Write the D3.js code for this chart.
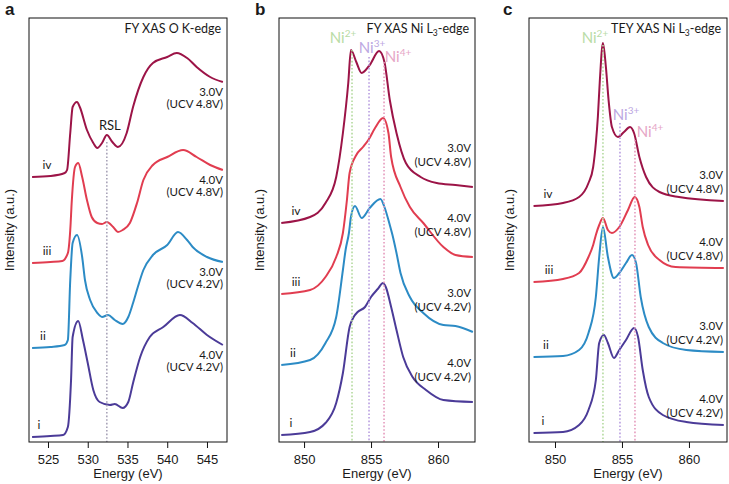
<!DOCTYPE html>
<html>
<head>
<meta charset="utf-8">
<script src="https://cdn.jsdelivr.net/npm/d3@7"></script>
<style>
  body { margin: 0; background: #fff; }
  svg text { font-family: "Liberation Sans", Arial, sans-serif; fill: #1a1a1a; }
  .cal { font-family: Lato, "Open Sans", sans-serif !important; }
</style>
</head>
<body>
<svg id="chart" width="729" height="484"></svg>
<script>
// ---- data: [energy (eV), intensity (a.u.)] ----
const oK_i = [[523.0,5],[525.3,6],[526.9,7],[527.5,15],[527.9,62],[528.1,105],[528.8,121],[529.4,102],[530.0,79],[530.7,52],[531.5,40],[532.8,37],[533.4,38],[534.4,34],[535.1,40],[535.7,59],[536.6,85],[537.8,105],[539.5,115],[541.6,127],[543.2,119],[545.0,107],[547.0,97]];
const oK_ii = [[523.0,94],[525.3,95],[527.1,97],[527.5,102],[527.8,162],[528.1,199],[528.65,207],[529.3,185],[529.65,162],[530.3,142],[531.2,129],[531.8,125],[532.55,127],[533.4,122],[534.4,118],[535.1,125],[535.7,139],[536.3,155],[537.0,172],[538.2,187],[540.0,197],[541.35,210],[542.5,202],[543.2,195],[545.0,185],[547.0,180]];
const oK_iii = [[523.0,179],[525.3,180],[526.8,181],[527.5,189],[527.8,212],[528.0,242],[528.4,275],[528.8,279],[529.3,265],[529.9,242],[530.5,225],[531.2,219],[531.8,218],[532.4,220],[533.2,215],[533.8,210],[534.4,212],[535.3,219],[536.2,239],[537.0,262],[538.2,277],[540.0,285],[542.0,292],[543.7,285],[545.4,277],[547.0,272]];
const oK_iv = [[523.0,265],[525.3,266],[527.1,269],[527.4,272],[527.8,309],[528.1,335],[528.65,340],[529.0,335],[529.9,312],[530.7,299],[531.2,294],[531.8,299],[532.4,307],[533.1,300],[533.8,295],[534.9,309],[535.7,335],[537.0,365],[538.2,379],[540.0,385],[541.2,389],[542.5,384],[543.7,375],[545.4,365],[547.0,360]];

const niFY_i = [[848.3,7],[850.45,10],[851.6,19],[852.4,39],[852.9,69],[853.4,115],[853.7,125],[854.0,130],[854.55,135],[855.0,145],[855.5,153],[855.9,159],[856.1,155],[856.5,135],[856.9,112],[857.4,85],[858.1,65],[859.1,52],[860.4,42],[862.6,40]];
const niFY_ii = [[848.3,77],[850.45,82],[851.6,99],[852.4,125],[852.9,172],[853.1,192],[853.35,209],[853.5,225],[853.8,236],[854.3,224],[854.9,234],[855.7,243],[856.0,235],[856.4,217],[856.6,207],[856.9,189],[857.2,169],[857.9,145],[858.9,129],[860.4,117],[861.3,116],[862.6,110]];
const niFY_iii = [[848.3,148],[850.45,152],[851.6,165],[852.4,185],[852.9,209],[853.2,242],[853.4,269],[853.9,287],[854.4,295],[854.8,302],[855.3,314],[855.9,324],[856.3,309],[856.5,285],[857.2,255],[857.9,235],[858.9,219],[860.4,195],[861.3,187],[862.6,185]];
const niFY_iv = [[848.3,219],[850.45,225],[851.6,239],[852.4,265],[852.9,309],[853.3,359],[853.5,392],[853.9,380],[854.3,369],[854.9,377],[855.6,391],[856.0,380],[856.4,342],[856.9,309],[857.6,279],[858.7,265],[859.9,259],[861.3,257],[862.6,255]];

const niTEY_i = [[848.4,9],[850.6,10],[851.8,17],[852.5,32],[853.05,62],[853.3,99],[853.65,107],[853.95,99],[854.4,84],[854.8,92],[855.3,102],[855.9,114],[856.2,105],[856.55,72],[857.0,45],[858.05,27],[859.8,20],[862.6,17]];
const niTEY_ii = [[848.4,85],[850.6,86],[851.8,92],[852.5,109],[853.05,145],[853.3,185],[853.58,215],[853.95,185],[854.4,164],[854.8,169],[855.3,179],[855.75,187],[856.05,179],[856.4,145],[857.0,115],[858.05,99],[859.8,92],[862.6,90]];
const niTEY_iii = [[848.4,160],[850.6,163],[851.8,169],[852.5,185],[852.85,197],[853.05,207],[853.3,217],[853.58,224],[853.95,212],[854.25,209],[854.8,215],[855.45,232],[855.95,245],[856.3,235],[856.55,215],[856.95,197],[857.8,182],[859.0,175],[862.6,174]];
const niTEY_iv = [[848.4,236],[850.6,239],[851.8,245],[852.5,259],[852.85,275],[853.05,299],[853.2,325],[853.35,362],[853.58,399],[853.8,375],[854.0,342],[854.25,315],[854.7,305],[855.15,310],[855.6,315],[855.9,309],[856.3,285],[856.8,265],[857.8,250],[859.25,245],[862.6,241]];

const romanLabels = ["i", "ii", "iii", "iv"];
const stateLabels = ["4.0V", "3.0V", "4.0V", "3.0V"];
const ucvLabels = ["(UCV 4.2V)", "(UCV 4.2V)", "(UCV 4.8V)", "(UCV 4.8V)"];
const seriesColors = ["#4b3b98", "#2c8bc5", "#e13d50", "#9c1447"];

const ticksO = [525, 530, 535, 540, 545];
const ticksNi = [850, 855, 860];

const rslEnergy = 532.4, rslTop = 300;
const niEnergies = [853.58, 854.85, 855.97];
const niSup = ["2+", "3+", "4+"];
const niLineColors = ["#b3da9e", "#b89ee0", "#e59bbd"];
const niTextColors = ["#b9dca6", "#bca8e2", "#e6a6c6"];
const niTopFY = [392, 385, 380];
const niTopTEY = [397, 319, 302];

// ---- layout ----
const plotTop = 18, plotBottom = 442;
const y = d3.scaleLinear().domain([0, 424]).range([plotBottom, plotTop]);

const panels = [
  { letter: "a", lx: 5, left: 29, right: 227, domain: [522.61, 547.52], ticks: ticksO,
    curves: [oK_i, oK_ii, oK_iii, oK_iv], title: ["FY XAS O K-edge"],
    romanX: [10, 14, 18, 18], volt: [14, 26] },
  { letter: "b", lx: 255, left: 279, right: 475, domain: [848.13, 862.76], ticks: ticksNi,
    curves: [niFY_i, niFY_ii, niFY_iii, niFY_iv], title: ["FY XAS Ni L", "3", "-edge"],
    romanX: [12, 14, 17, 17], volt: [-35, -21],
    ni: { top: niTopFY, dx: [-9, 3, 14], base: [43, 53, 62] } },
  { letter: "c", lx: 503, left: 529, right: 727, domain: [848.06, 862.84], ticks: ticksNi,
    curves: [niTEY_i, niTEY_ii, niTEY_iii, niTEY_iv], title: ["TEY XAS Ni L", "3", "-edge"],
    romanX: [14, 17, 20, 19], volt: [-22, -8],
    ni: { top: niTopTEY, dx: [-8, 6, 15], base: [43, 120, 137] } }
];

const svg = d3.select("#chart");

panels.forEach(p => {
  const x = d3.scaleLinear().domain(p.domain).range([p.left, p.right]);
  const g = svg.append("g");

  // spectra, top curve first
  const line = d3.line().x(d => x(d[0])).y(d => y(d[1])).curve(d3.curveMonotoneX);
  [3, 2, 1, 0].forEach(i => {
    g.append("path")
      .attr("d", line(p.curves[i]))
      .attr("fill", "none")
      .attr("stroke", seriesColors[i])
      .attr("stroke-width", 2)
      .attr("stroke-linejoin", "round");
  });

  // dotted guide lines
  if (p.letter === "a") {
    g.append("line")
      .attr("x1", x(rslEnergy)).attr("x2", x(rslEnergy))
      .attr("y1", y(rslTop)).attr("y2", plotBottom)
      .attr("stroke", "#a8a3b8").attr("stroke-width", 1.6)
      .attr("stroke-dasharray", "1.6,2");
    g.append("text").attr("class", "cal")
      .attr("x", x(rslEnergy) + 3).attr("y", 130)
      .attr("text-anchor", "middle").attr("font-size", 13)
      .text("RSL");
  } else {
    niEnergies.forEach((e, k) => {
      g.append("line")
        .attr("x1", x(e)).attr("x2", x(e))
        .attr("y1", y(p.ni.top[k])).attr("y2", plotBottom)
        .attr("stroke", niLineColors[k]).attr("stroke-width", 1.6)
        .attr("stroke-dasharray", "1.6,2");
      const t = g.append("text").attr("class", "cal")
        .attr("x", x(e) + p.ni.dx[k]).attr("y", p.ni.base[k])
        .attr("text-anchor", "middle").attr("font-size", 15)
        .style("fill", niTextColors[k]);
      t.append("tspan").text("Ni");
      t.append("tspan").attr("font-size", 10).attr("dy", -6).text(niSup[k]);
    });
  }

  // frame
  g.append("rect")
    .attr("x", p.left).attr("y", plotTop)
    .attr("width", p.right - p.left).attr("height", plotBottom - plotTop)
    .attr("fill", "none").attr("stroke", "#111").attr("stroke-width", 1);

  // x axis
  const ax = g.append("g")
    .attr("transform", `translate(0,${plotBottom})`)
    .call(d3.axisBottom(x).tickValues(p.ticks).tickSize(6).tickPadding(7));
  ax.select(".domain").remove();
  ax.selectAll(".tick line").attr("stroke", "#111");
  ax.selectAll(".tick text").attr("font-size", 13)
    .attr("font-family", "Liberation Sans, Arial, sans-serif").style("fill", "#1a1a1a");

  g.append("text")
    .attr("x", (p.left + p.right) / 2).attr("y", 478)
    .attr("text-anchor", "middle").attr("font-size", 13)
    .text("Energy (eV)");

  g.append("text")
    .attr("transform", `translate(${p.left - 15},${(plotTop + plotBottom) / 2}) rotate(-90)`)
    .attr("text-anchor", "middle").attr("font-size", 13)
    .text("Intensity (a.u.)");

  // panel letter
  g.append("text")
    .attr("x", p.lx).attr("y", 15)
    .attr("font-size", 17).attr("font-weight", "bold")
    .text(p.letter);

  // title
  const tt = g.append("text").attr("class", "cal")
    .attr("x", p.right - 6).attr("y", 33)
    .attr("text-anchor", "end").attr("font-size", 12.5);
  tt.append("tspan").text(p.title[0]);
  if (p.title.length > 1) {
    tt.append("tspan").attr("font-size", 8.5).attr("dy", 3).text(p.title[1]);
    tt.append("tspan").attr("dy", -3).text(p.title[2]);
  }

  // curve labels
  p.curves.forEach((c, i) => {
    const first = c[0], last = c[c.length - 1];
    g.append("text").attr("class", "cal")
      .attr("x", p.left + p.romanX[i]).attr("y", y(first[1]) - 8)
      .attr("text-anchor", "middle").attr("font-size", 12)
      .text(romanLabels[i]);
    g.append("text").attr("class", "cal")
      .attr("x", p.right - 4).attr("y", y(last[1]) + p.volt[0])
      .attr("text-anchor", "end").attr("font-size", 11.5)
      .text(stateLabels[i]);
    g.append("text").attr("class", "cal")
      .attr("x", p.right - 4).attr("y", y(last[1]) + p.volt[1])
      .attr("text-anchor", "end").attr("font-size", 11.5)
      .text(ucvLabels[i]);
  });
});
</script>
</body>
</html>
